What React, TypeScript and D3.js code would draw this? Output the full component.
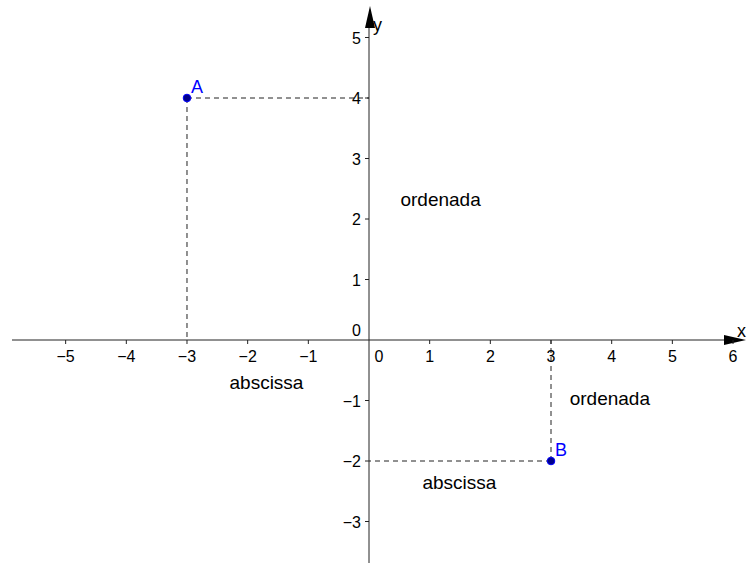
import React from "react";
import * as d3 from "d3";

const xTicks = [-5, -4, -3, -2, -1, 0, 1, 2, 3, 4, 5, 6];
const yTicks = [-3, -2, -1, 0, 1, 2, 3, 4, 5];
const points = [
  { name: "A", x: -3, y: 4 },
  { name: "B", x: 3, y: -2 },
];
const notes = [
  { text: "ordenada", x: 1.18, y: 2.22 },
  { text: "abscissa", x: -1.69, y: -0.81 },
  { text: "ordenada", x: 3.97, y: -1.08 },
  { text: "abscissa", x: 1.49, y: -2.46 },
];

const W = 747;
const H = 563;

export default function App() {
  const x = d3.scaleLinear().domain([0, 1]).range([369, 429.67]);
  const y = d3.scaleLinear().domain([0, 1]).range([340, 279.5]);
  const font = "'Liberation Sans', Arial, sans-serif";
  const x0 = x(0);
  const y0 = y(0);
  return (
    <svg width={W} height={H} style={{ position: "absolute", left: 0, top: 0, background: "#fff" }} fontFamily={font}>
      {points.map((p) => (
        <g key={"d" + p.name} stroke="#222" strokeDasharray="5,4" strokeWidth={1}>
          <line x1={x(p.x)} y1={y(p.y)} x2={x0} y2={y(p.y)} />
          <line x1={x(p.x)} y1={y(p.y)} x2={x(p.x)} y2={y0} />
        </g>
      ))}
      <line x1={12} y1={y0} x2={728} y2={y0} stroke="#222" strokeWidth={1} />
      <path d={`M${746},${y0} L${724},${y0 - 5} L${724},${y0 + 5} Z`} fill="#000" />
      <text x={737} y={y0 - 3} fontSize={18}>x</text>
      <line x1={x0} y1={H} x2={x0} y2={24} stroke="#222" strokeWidth={1} />
      <path d={`M${x0 + 1},${6} L${x0 - 4},${28} L${x0 + 6},${28} Z`} fill="#000" />
      <text x={x0 + 4} y={31} fontSize={18}>y</text>
      {xTicks.map((t) => (
        <g key={"xt" + t}>
          {t !== 0 && <line x1={x(t)} y1={y0} x2={x(t)} y2={y0 + 4} stroke="#222" />}
          <text x={t === 0 ? x(t) + 10 : x(t)} y={y0 + 22} fontSize={16} textAnchor="middle">
            {t < 0 ? "\u2212" + Math.abs(t) : String(t)}
          </text>
        </g>
      ))}
      {yTicks.map((t) => (
        <g key={"yt" + t}>
          {t !== 0 && <line x1={x0 - 4} y1={y(t)} x2={x0} y2={y(t)} stroke="#222" />}
          <text x={x0 - 8} y={t === 0 ? y(t) - 4 : y(t) + 6} fontSize={16} textAnchor="end">
            {t < 0 ? "\u2212" + Math.abs(t) : String(t)}
          </text>
        </g>
      ))}
      {notes.map((n, i) => (
        <text key={"n" + i} x={x(n.x)} y={y(n.y)} fontSize={19} textAnchor="middle">
          {n.text}
        </text>
      ))}
      {points.map((p) => (
        <g key={"p" + p.name}>
          <circle cx={x(p.x)} cy={y(p.y)} r={3.8} fill="#00008b" stroke="#0000ff" strokeWidth={1} />
          <text x={x(p.x) + 4} y={y(p.y) - 5} fontSize={18} fill="#0000ff">
            {p.name}
          </text>
        </g>
      ))}
    </svg>
  );
}
